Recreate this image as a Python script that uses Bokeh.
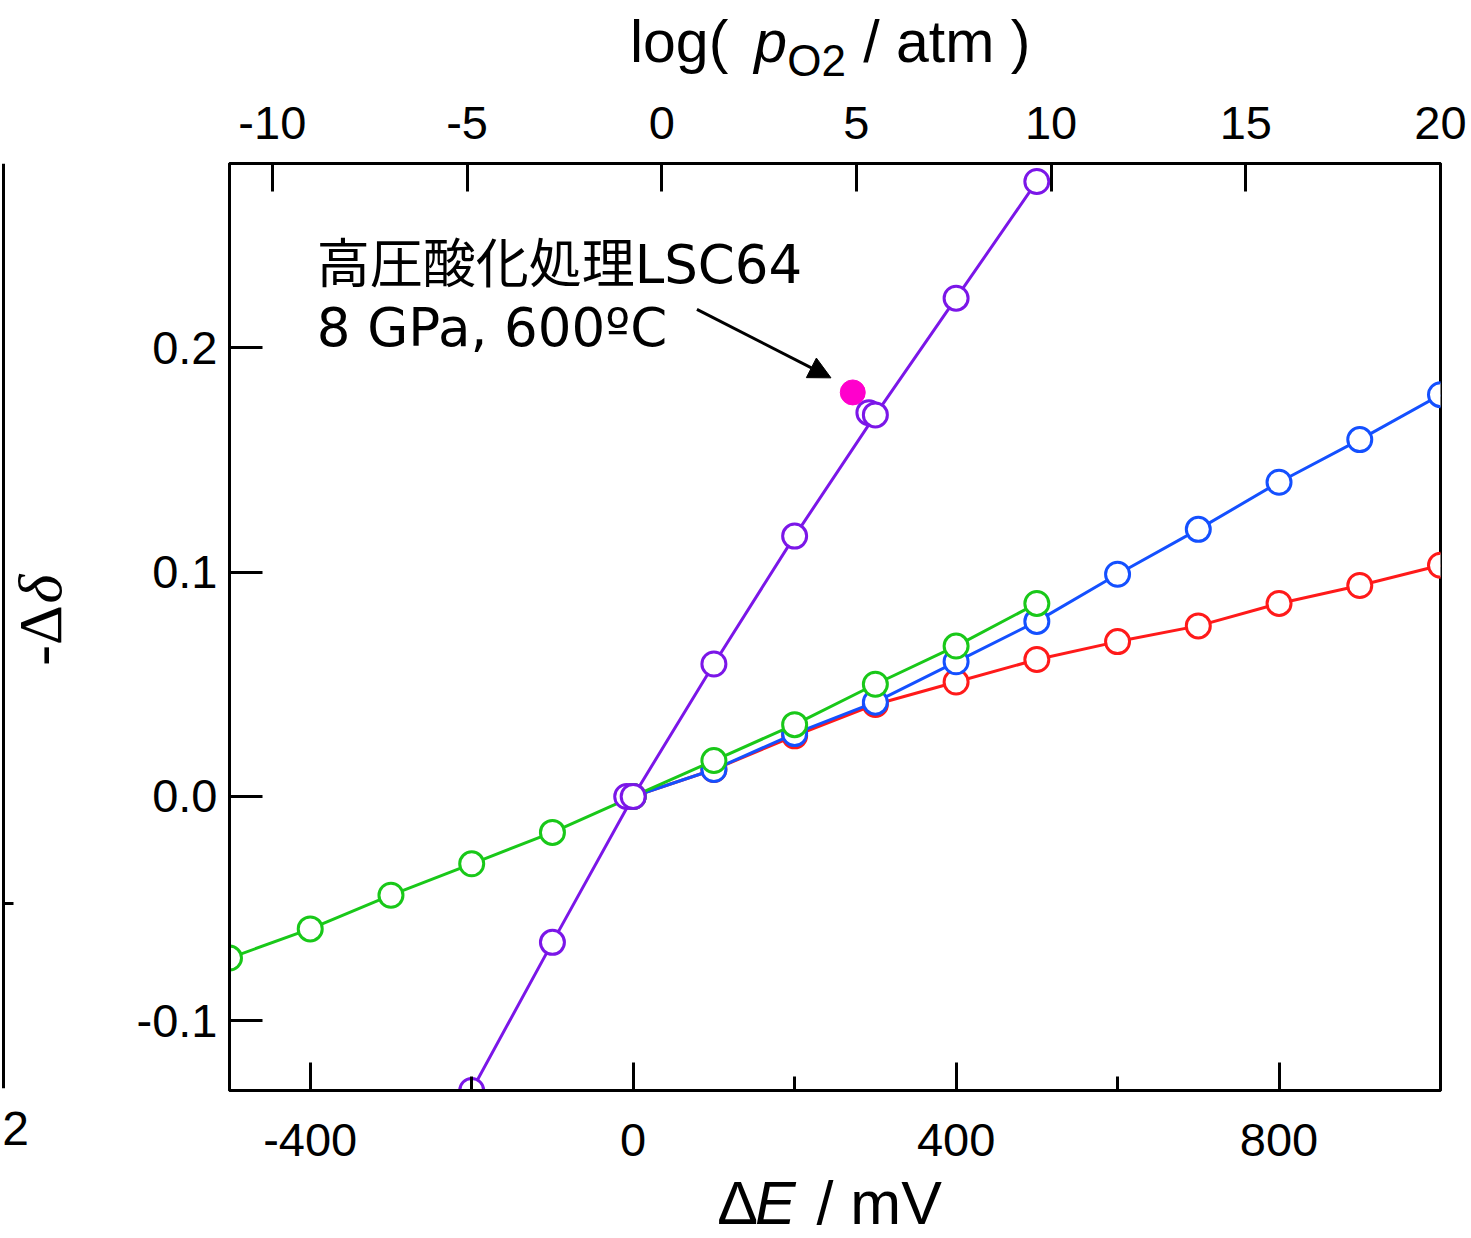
from bokeh.plotting import figure
from bokeh.models import (Range1d, LinearAxis, FixedTicker, PrintfTickFormatter,
                          Label, Arrow, NormalHead)
from bokeh.layouts import gridplot
from bokeh.core.properties import value
from bokeh.embed import file_html
from bokeh.resources import INLINE

# ---------------- data ----------------
E_red = [0, 100, 200, 300, 400, 500, 600, 700, 800, 900, 1000]
d_red = [0.0, 0.012, 0.027, 0.041, 0.051, 0.061, 0.069, 0.076, 0.086, 0.094, 0.103]

E_blue = [0, 100, 200, 300, 400, 500, 600, 700, 800, 900, 1000]
d_blue = [0.0, 0.012, 0.028, 0.042, 0.060, 0.078, 0.099, 0.119, 0.140, 0.159, 0.179]

E_green = [-500, -400, -300, -200, -100, 0, 100, 200, 300, 400, 500]
d_green = [-0.072, -0.059, -0.044, -0.030, -0.016, 0.0, 0.016, 0.032, 0.050, 0.067, 0.086]

E_purple = [-200, -100, 0, 100, 200, 300, 400, 500]
d_purple = [-0.131, -0.065, 0.0, 0.059, 0.116, 0.170, 0.222, 0.274]

E_purple2 = [-8, 292]
d_purple2 = [0.0, 0.171]

E_hp = [272]
d_hp = [0.180]

x_ticks = [-400, 0, 400, 800]
x_minor = [-200, 200, 600, 1000]
y_ticks = [-0.1, 0.0, 0.1, 0.2]
top_ticks = [-10, -5, 0, 5, 10, 15, 20]

annot_line1 = "高圧酸化処理LSC64"
annot_line2 = "8 GPa, 600ºC"

RED = "#FF1A1A"
BLUE = "#1450FF"
GREEN = "#19C819"
PURPLE = "#7B16E8"
MAGENTA = "#FF00CC"

SANS = "Liberation Sans"
SERIF = "Liberation Serif"

# ---------------- geometry ----------------
W_A = 110                  # left strip width
W_M = 1471 - W_A           # main column width
H_TOP = 88                 # top title strip
H_BOT = 68                 # bottom title strip
H_MID = 1238 - H_TOP - H_BOT
BL, BR, BT, BB = 119, 31, 163 - H_TOP, (1238 - H_BOT) - 1090   # main borders

xr = Range1d(-500, 1000)
yr = Range1d(-0.131, 0.282)

# ---------------- main plot ----------------
p = figure(width=W_M, height=H_MID, x_range=xr, y_range=yr,
           output_backend="svg", toolbar_location=None,
           min_border_left=BL, min_border_right=BR,
           min_border_top=BT, min_border_bottom=BB)
p.grid.visible = False
p.outline_line_color = "black"
p.outline_line_width = 3
p.outline_line_alpha = 1.0

xa = p.xaxis[0]
xa.ticker = FixedTicker(ticks=x_ticks, minor_ticks=x_minor)
xa.formatter = PrintfTickFormatter(format="%d")
ya = p.yaxis[0]
ya.ticker = FixedTicker(ticks=y_ticks, minor_ticks=[])
ya.formatter = PrintfTickFormatter(format="%.1f")

p.extra_x_ranges = {"top": Range1d(-11.1, 20)}
ta = LinearAxis(x_range_name="top", ticker=FixedTicker(ticks=top_ticks, minor_ticks=[]),
                formatter=PrintfTickFormatter(format="%d"))
p.add_layout(ta, "above")

for ax in (xa, ya, ta):
    ax.axis_line_width = 3
    ax.axis_line_color = "black"
    ax.major_tick_line_width = 3
    ax.minor_tick_line_width = 3
    ax.major_tick_line_color = "black"
    ax.minor_tick_line_color = "black"
    ax.major_tick_out = 0
    ax.minor_tick_out = 0
    ax.major_label_text_font = SANS
    ax.major_label_text_font_size = "47px"
    ax.major_label_text_color = "black"

xa.major_tick_in = 28
xa.minor_tick_in = 14
xa.major_label_standoff = 33
ya.major_tick_in = 33
ya.minor_tick_in = 0
ya.major_label_standoff = 12
ta.major_tick_in = 28
ta.minor_tick_in = 0
ta.major_label_standoff = 25

def series(xs, ys, color):
    p.line(xs, ys, line_color=color, line_width=3)
    p.scatter(xs, ys, marker="circle", size=24, line_color=color, line_width=3,
              fill_color="white")

series(E_red, d_red, RED)
series(E_blue, d_blue, BLUE)
series(E_green, d_green, GREEN)
p.scatter(E_purple2, d_purple2, marker="circle", size=24, line_color=PURPLE,
          line_width=3, fill_color="white")
series(E_purple, d_purple, PURPLE)
p.scatter(E_hp, d_hp, marker="circle", size=25, line_color=MAGENTA,
          fill_color=MAGENTA, line_width=1)

# annotation text and arrow
ann_font = "'DejaVu Sans', 'Noto Sans CJK JP', sans-serif"
p.add_layout(Label(x=-392, y=0.2372, text=annot_line1, text_font=ann_font,
                   text_font_size="53px", text_align="left",
                   text_baseline="alphabetic", text_color="black"))
p.add_layout(Label(x=-392, y=0.2088, text=annot_line2, text_font=ann_font,
                   text_font_size="53px", text_align="left",
                   text_baseline="alphabetic", text_color="black"))
p.add_layout(Arrow(x_start=79, y_start=0.217, x_end=245, y_end=0.1865,
                   line_color="black", line_width=3,
                   end=NormalHead(size=22, fill_color="black", line_color="black")))

# ---------------- left strip: neighbouring panel remnant + y title ----------------
pa = figure(width=W_A, height=H_MID, x_range=Range1d(0, W_A), y_range=yr,
            output_backend="svg", toolbar_location=None,
            x_axis_location="below", y_axis_location=None,
            min_border_left=0, min_border_right=0,
            min_border_top=BT, min_border_bottom=BB)
pa.outline_line_color = None
pa.grid.visible = False
pa.line(x=[3, 3], y=[yr.start + 0.001, yr.end], line_color="black", line_width=3)
pa.line(x=[3, 13], y=[-0.0477, -0.0477], line_color="black", line_width=3)
pxa = pa.xaxis[0]
pxa.ticker = FixedTicker(ticks=[15], minor_ticks=[])
pxa.major_label_overrides = {15: "2"}
pxa.axis_line_color = None
pxa.major_tick_line_color = None
pxa.minor_tick_line_color = None
pxa.major_label_text_font = SANS
pxa.major_label_text_font_size = "48px"
pxa.major_label_text_color = "black"
pxa.major_label_standoff = 15

pa.text(x=[39], y=[0.0852], text=["-Δ"], angle=1.5708, text_font=value(SERIF),
        text_font_size="62px", text_align="right", text_baseline="alphabetic",
        text_color="black")
pa.text(x=[39], y=[0.0860], text=["δ"], angle=1.5708, text_font=value(SERIF),
        text_font_style="italic", text_font_size="62px", text_align="left",
        text_baseline="alphabetic", text_color="black")

# ---------------- title strips ----------------
def strip(h):
    s = figure(width=W_M, height=h, x_range=xr, y_range=Range1d(0, h),
               output_backend="svg", toolbar_location=None,
               x_axis_location=None, y_axis_location=None,
               min_border_left=BL, min_border_right=BR,
               min_border_top=0, min_border_bottom=0)
    s.outline_line_color = None
    s.grid.visible = False
    return s

def txt(s, x, y, t, size, style="normal"):
    s.text(x=[x], y=[y], text=[t], text_font=value(SANS), text_font_size=size,
           text_font_style=style, text_align="left", text_baseline="alphabetic",
           text_color="black")

top = strip(H_TOP)
txt(top, -4, 47, "log(", "59px")
txt(top, 150, 47, "p", "59px", "italic")
txt(top, 191, 28, "O2", "44px")
txt(top, 285, 47, "/ atm )", "59px")

bot = strip(H_BOT)
txt(bot, 104, 36, "Δ", "61px")
txt(bot, 151, 36, "E", "61px", "italic")
txt(bot, 227, 36, "/ mV", "61px")

grid = gridplot([[None, top], [pa, p], [None, bot]], toolbar_location=None)

open("out.html", "w").write(file_html(grid, INLINE))
